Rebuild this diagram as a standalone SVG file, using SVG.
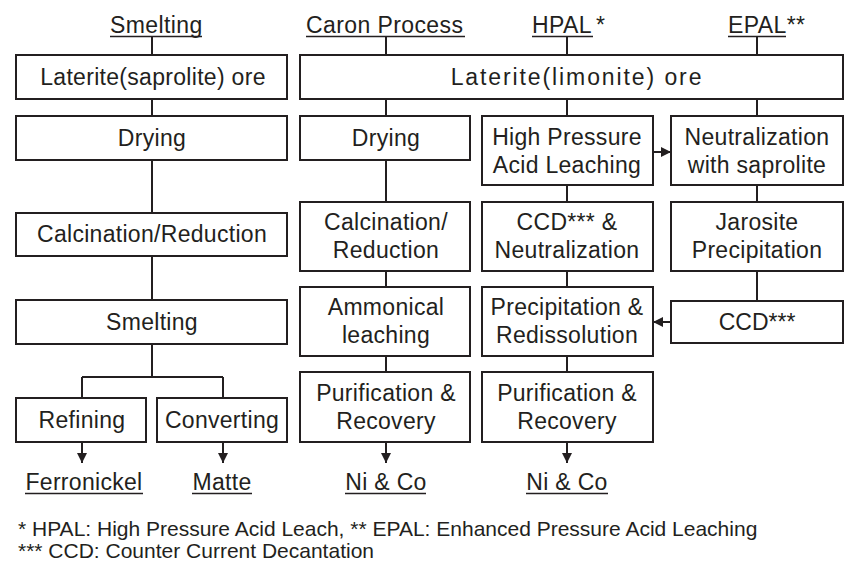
<svg xmlns="http://www.w3.org/2000/svg" width="850" height="580" viewBox="0 0 850 580">
<defs>
<style>
.box{fill:#fff;stroke:#231f20;stroke-width:2}
.t{font-family:"Liberation Sans",Arial,sans-serif;font-size:23px;fill:#231f20;text-anchor:middle;letter-spacing:0.3px}
.h{font-family:"Liberation Sans",Arial,sans-serif;font-size:23px;fill:#231f20;letter-spacing:0.4px}
.f{font-family:"Liberation Sans",Arial,sans-serif;font-size:21px;fill:#231f20}
.ln{stroke:#231f20;stroke-width:2;fill:none}
.ul{stroke:#231f20;stroke-width:1.6}
</style>
<marker id="ah" markerWidth="10" markerHeight="10" refX="10" refY="5" orient="auto" markerUnits="userSpaceOnUse">
<path d="M0,0 L10,5 L0,10 Z" fill="#231f20"/>
</marker>
</defs>
<rect width="850" height="580" fill="#fff"/>

<g id="connectors">
<path class="ln" d="M152,37 V55 M152,99 V116 M152,160 V213 M152,256 V300 M152,344 V377 M82,377 H223 M82,377 V398 M223,377 V398"/>
<path class="ln" d="M82,442 V463" marker-end="url(#ah)"/>
<path class="ln" d="M223,442 V463" marker-end="url(#ah)"/>
<path class="ln" d="M386,37 V55 M386,99 V116 M386,160 V202 M386,271 V287 M386,356 V372"/>
<path class="ln" d="M386,442 V463" marker-end="url(#ah)"/>
<path class="ln" d="M567,37 V55 M567,99 V116 M567,185 V202 M567,271 V287 M567,356 V372"/>
<path class="ln" d="M567,442 V463" marker-end="url(#ah)"/>
<path class="ln" d="M757,37 V55 M757,99 V116 M757,185 V202 M757,271 V301"/>
<path class="ln" d="M653,152 H671" marker-end="url(#ah)"/>
<path class="ln" d="M671,322 H653" marker-end="url(#ah)"/>
</g>

<g id="headers">
<text class="h" x="110" y="33">Smelting</text>
<line class="ul" x1="110" y1="36.5" x2="202" y2="36.5"/>
<text class="h" x="306" y="33">Caron Process</text>
<line class="ul" x1="306" y1="36.5" x2="465" y2="36.5"/>
<text class="h" x="532" y="33">HPAL<tspan dx="4">*</tspan></text>
<line class="ul" x1="532" y1="36.5" x2="593" y2="36.5"/>
<text class="h" x="728" y="33">EPAL**</text>
<line class="ul" x1="728" y1="36.5" x2="786" y2="36.5"/>
</g>

<g id="saprolite-ore"><rect class="box" x="16" y="55" width="271" height="44"/><text class="t" x="153" y="85">Laterite(saprolite) ore</text></g>
<g id="limonite-ore"><rect class="box" x="300" y="55" width="543" height="44"/><text class="t" x="577" y="85" style="letter-spacing:1.9px">Laterite(limonite) ore</text></g>

<g id="s-drying"><rect class="box" x="16" y="116" width="271" height="44"/><text class="t" x="152" y="146">Drying</text></g>
<g id="s-calcination"><rect class="box" x="16" y="213" width="271" height="43"/><text class="t" x="152" y="242">Calcination/Reduction</text></g>
<g id="s-smelting"><rect class="box" x="16" y="300" width="271" height="44"/><text class="t" x="152" y="330">Smelting</text></g>
<g id="s-refining"><rect class="box" x="16" y="398" width="130" height="44"/><text class="t" x="82" y="428">Refining</text></g>
<g id="s-converting"><rect class="box" x="157" y="398" width="130" height="44"/><text class="t" x="222" y="428">Converting</text></g>

<g id="c-drying"><rect class="box" x="300" y="116" width="170" height="44"/><text class="t" x="386" y="146">Drying</text></g>
<g id="c-calcination"><rect class="box" x="300" y="202" width="170" height="69"/><text class="t" x="386" y="230">Calcination/</text><text class="t" x="386" y="258">Reduction</text></g>
<g id="c-ammonical"><rect class="box" x="300" y="287" width="170" height="69"/><text class="t" x="386" y="315">Ammonical</text><text class="t" x="386" y="343">leaching</text></g>
<g id="c-purification"><rect class="box" x="300" y="372" width="170" height="70"/><text class="t" x="386" y="401">Purification &amp;</text><text class="t" x="386" y="429">Recovery</text></g>

<g id="h-hpal"><rect class="box" x="482" y="116" width="171" height="69"/><text class="t" x="567" y="145">High Pressure</text><text class="t" x="567" y="173">Acid Leaching</text></g>
<g id="h-ccd"><rect class="box" x="482" y="202" width="171" height="69"/><text class="t" x="567" y="230">CCD*** &amp;</text><text class="t" x="567" y="258">Neutralization</text></g>
<g id="h-precipitation"><rect class="box" x="482" y="287" width="171" height="69"/><text class="t" x="567" y="315">Precipitation &amp;</text><text class="t" x="567" y="343">Redissolution</text></g>
<g id="h-purification"><rect class="box" x="482" y="372" width="171" height="70"/><text class="t" x="567" y="401">Purification &amp;</text><text class="t" x="567" y="429">Recovery</text></g>

<g id="e-neutralization"><rect class="box" x="671" y="116" width="172" height="69"/><text class="t" x="757" y="145">Neutralization</text><text class="t" x="757" y="173">with saprolite</text></g>
<g id="e-jarosite"><rect class="box" x="671" y="202" width="172" height="69"/><text class="t" x="757" y="230">Jarosite</text><text class="t" x="757" y="258">Precipitation</text></g>
<g id="e-ccd"><rect class="box" x="671" y="301" width="172" height="42"/><text class="t" x="757" y="330" style="letter-spacing:0">CCD***</text></g>

<g id="products">
<text class="t" x="84" y="490">Ferronickel</text>
<line class="ul" x1="25" y1="493.5" x2="143" y2="493.5"/>
<text class="t" x="222" y="490">Matte</text>
<line class="ul" x1="192" y1="493.5" x2="252" y2="493.5"/>
<text class="t" x="386" y="490">Ni &amp; Co</text>
<line class="ul" x1="345" y1="493.5" x2="426" y2="493.5"/>
<text class="t" x="567" y="490">Ni &amp; Co</text>
<line class="ul" x1="526" y1="493.5" x2="608" y2="493.5"/>
</g>

<g id="footnotes">
<text class="f" x="18" y="536">* HPAL: High Pressure Acid Leach, ** EPAL: Enhanced Pressure Acid Leaching</text>
<text class="f" x="18" y="558">*** CCD: Counter Current Decantation</text>
</g>
</svg>
